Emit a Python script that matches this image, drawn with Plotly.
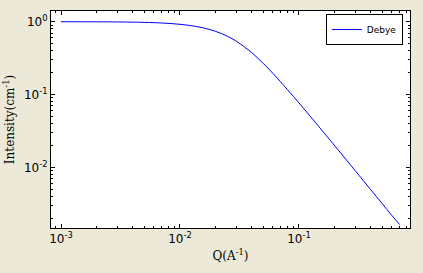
import plotly.graph_objects as go

q = [0.001, 0.002, 0.003, 0.005, 0.007, 0.01, 0.013, 0.016, 0.02, 0.025,
     0.03, 0.04, 0.05, 0.06, 0.08, 0.1, 0.13, 0.16, 0.2, 0.25,
     0.3, 0.4, 0.5, 0.6, 0.7]
intensity = [0.9992, 0.9967, 0.9925, 0.9795, 0.9604, 0.9216, 0.8728, 0.8169, 0.7358, 0.6325,
             0.5355, 0.3773, 0.2689, 0.1975, 0.1172, 0.0768, 0.04622, 0.03076, 0.0198, 0.01272,
             0.00885, 0.004988, 0.003195, 0.00222, 0.00165]

x_tickvals = [0.001, 0.01, 0.1]
x_ticktext = ["10<sup>-3</sup>", "10<sup>-2</sup>", "10<sup>-1</sup>"]
y_tickvals = [1, 0.1, 0.01]
y_ticktext = ["10<sup>0</sup>", "10<sup>-1</sup>", "10<sup>-2</sup>"]

fig = go.Figure()
fig.add_trace(go.Scatter(x=q, y=intensity, mode="lines", name="Debye",
                         line=dict(color="#0000ff", width=1, shape="spline")))

axis_common = dict(type="log", showgrid=False, zeroline=False, showline=True,
                   linecolor="black", linewidth=1, mirror="allticks",
                   ticks="inside", ticklen=4, tickcolor="black", tickwidth=1,
                   tickfont=dict(family="DejaVu Sans", size=12, color="black"),
                   minor=dict(ticks="inside", ticklen=2, tickcolor="black", tickwidth=1,
                              dtick="D1", showgrid=False))

fig.update_xaxes(**axis_common, range=[-3.084, -0.067],
                 tickmode="array", tickvals=x_tickvals, ticktext=x_ticktext,
                 title=dict(text="Q(A<sup>-1</sup>)", font=dict(family="DejaVu Serif", size=12, color="black"), standoff=6))
fig.update_yaxes(**axis_common, range=[-2.83, 0.147],
                 tickmode="array", tickvals=y_tickvals, ticktext=y_ticktext,
                 title=dict(text="Intensity(cm<sup>-1</sup>)", font=dict(family="DejaVu Serif", size=12, color="black"), standoff=6))

fig.update_layout(
    width=423, height=273,
    margin=dict(l=51, r=13, t=11, b=45),
    paper_bgcolor="#ece9d8", plot_bgcolor="white",
    showlegend=True,
    legend=dict(x=0.98, y=0.986, xanchor="right", yanchor="top",
                bgcolor="white", bordercolor="black", borderwidth=1,
                font=dict(family="DejaVu Sans", size=9, color="black"),
                itemwidth=30, tracegroupgap=0),
)

fig.write_html("out.html")
